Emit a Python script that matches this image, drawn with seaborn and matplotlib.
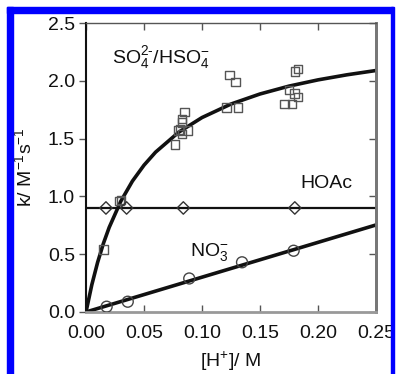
import matplotlib
matplotlib.use("Agg")
import matplotlib.pyplot as plt
import matplotlib.patches as mpatches
import seaborn as sns
import numpy as np
import pandas as pd

# ---- data ----
so4_x = [0.015, 0.029, 0.030, 0.0767, 0.0796, 0.081, 0.0825, 0.083, 0.083, 0.085, 0.088,
         0.121, 0.1236, 0.129, 0.131, 0.171, 0.175, 0.1776, 0.1796, 0.180, 0.183, 0.183]
so4_y = [0.54, 0.96, 0.97, 1.45, 1.57, 1.58, 1.67, 1.64, 1.54, 1.73, 1.57,
         1.77, 2.05, 1.99, 1.77, 1.80, 1.92, 1.80, 1.89, 2.08, 2.10, 1.86]

# fitted curve for SO4/HSO4
fit_x = [0.0, 0.005, 0.01, 0.015, 0.02, 0.03, 0.04, 0.05, 0.06, 0.08, 0.10,
         0.125, 0.15, 0.175, 0.20, 0.225, 0.25]
fit_y = [0.0, 0.235, 0.429, 0.593, 0.732, 0.958, 1.132, 1.270, 1.383, 1.556, 1.682,
         1.799, 1.886, 1.954, 2.008, 2.052, 2.089]

hoac_x = [0.0172, 0.035, 0.0839, 0.180]
hoac_y = [0.90, 0.90, 0.90, 0.90]
hoac_line_x = [0.0, 0.25]
hoac_line_y = [0.90, 0.90]

no3_x = [0.0178, 0.036, 0.089, 0.1345, 0.179]
no3_y = [0.046, 0.089, 0.29, 0.43, 0.53]
no3_line_x = [0.0, 0.25]
no3_line_y = [0.0, 0.753]

xticks = [0.00, 0.05, 0.10, 0.15, 0.20, 0.25]
yticks = [0.0, 0.5, 1.0, 1.5, 2.0, 2.5]

# ---- style ----
sns.set_style("ticks")
plt.rcParams['font.family'] = ['Liberation Sans', 'DejaVu Sans']
plt.rcParams['mathtext.fontset'] = 'custom'
plt.rcParams['mathtext.rm'] = 'Liberation Sans'
plt.rcParams['mathtext.it'] = 'Liberation Sans'

FS = 14

fig = plt.figure(figsize=(3.96, 3.74), dpi=100)
ax = fig.add_axes([86/396, 1-312/374, 290/396, 289/374])

df_fit = pd.DataFrame({'x': fit_x, 'y': fit_y})
df_so4 = pd.DataFrame({'x': so4_x, 'y': so4_y})
df_hoac = pd.DataFrame({'x': hoac_x, 'y': hoac_y})
df_no3 = pd.DataFrame({'x': no3_x, 'y': no3_y})

sns.lineplot(data=pd.DataFrame({'x': hoac_line_x, 'y': hoac_line_y}), x='x', y='y',
             ax=ax, color='#111111', lw=1.6, sort=False)
sns.lineplot(data=df_fit, x='x', y='y', ax=ax, color='#111111', lw=2.6, sort=False)
sns.lineplot(data=pd.DataFrame({'x': no3_line_x, 'y': no3_line_y}), x='x', y='y',
             ax=ax, color='#111111', lw=2.6, sort=False)

sns.scatterplot(data=df_so4, x='x', y='y', ax=ax, marker='s', s=36,
                facecolor='none', edgecolor='#555555', linewidth=1.0, zorder=3)
sns.scatterplot(data=df_hoac, x='x', y='y', ax=ax, marker='D', s=40,
                facecolor='none', edgecolor='#333333', linewidth=1.0, zorder=3)
sns.scatterplot(data=df_no3, x='x', y='y', ax=ax, marker='o', s=62,
                facecolor='none', edgecolor='#444444', linewidth=1.0, zorder=3)

ax.set_xlim(0, 0.25)
ax.set_ylim(0, 2.5)
ax.set_xticks(xticks)
ax.set_xticklabels([f"{v:.2f}" for v in xticks])
ax.set_yticks(yticks)
ax.set_yticklabels([f"{v:.1f}" for v in yticks])

ax.tick_params(axis='x', direction='in', top=True, bottom=True, length=5,
               width=1, color='#555555', labelsize=FS, pad=9, labelcolor='#111111')
ax.tick_params(axis='y', direction='out', left=True, right=False, length=5,
               width=1, color='#555555', labelsize=FS, pad=3, labelcolor='#111111')
sec = ax.secondary_yaxis('right')
sec.set_yticks(yticks)
sec.tick_params(direction='in', length=5, width=1, color='#555555', labelright=False)
sec.spines['right'].set_color('#777777')
sec.spines['right'].set_linewidth(2)

ax.spines['left'].set_color('#111111')
ax.spines['left'].set_linewidth(1.5)
ax.spines['top'].set_color('#555555')
ax.spines['top'].set_linewidth(1)
ax.spines['right'].set_color('#777777')
ax.spines['right'].set_linewidth(2)
ax.spines['bottom'].set_color('#999999')
ax.spines['bottom'].set_linewidth(2)

ax.set_xlabel(r'[H$^{+}$]/ M', fontsize=FS, labelpad=6, color='#111111')
ax.set_ylabel(r'k/ M$^{-1}$s$^{-1}$', fontsize=FS, labelpad=9, color='#111111')

ax.text(0.0224, 2.2, r'SO$_4^{2\text{-}}$/HSO$_4^{-}$', fontsize=FS, va='center', ha='left',
        color='#111111')
ax.text(0.185, 1.11, 'HOAc', fontsize=FS, va='center', ha='left', color='#111111')
ax.text(0.0895, 0.52, r'NO$_3^{-}$', fontsize=FS, va='center', ha='left', color='#111111')

# blue frame around the figure
fig.patches.append(mpatches.Rectangle((7.3/396, -0.1), 5.4/396, 1.1 - 7.3/374,
                                      transform=fig.transFigure, color='#0000ff', zorder=10))
fig.patches.append(mpatches.Rectangle((7.3/396, 1 - 12.7/374), (393.3 - 7.3)/396, 5.4/374,
                                      transform=fig.transFigure, color='#0000ff', zorder=10))
fig.patches.append(mpatches.Rectangle((391/396, -0.1), 2.6/396, 1.1 - 7.3/374,
                                      transform=fig.transFigure, color='#0000ff', zorder=10))

fig.savefig('out.png', dpi=100)
